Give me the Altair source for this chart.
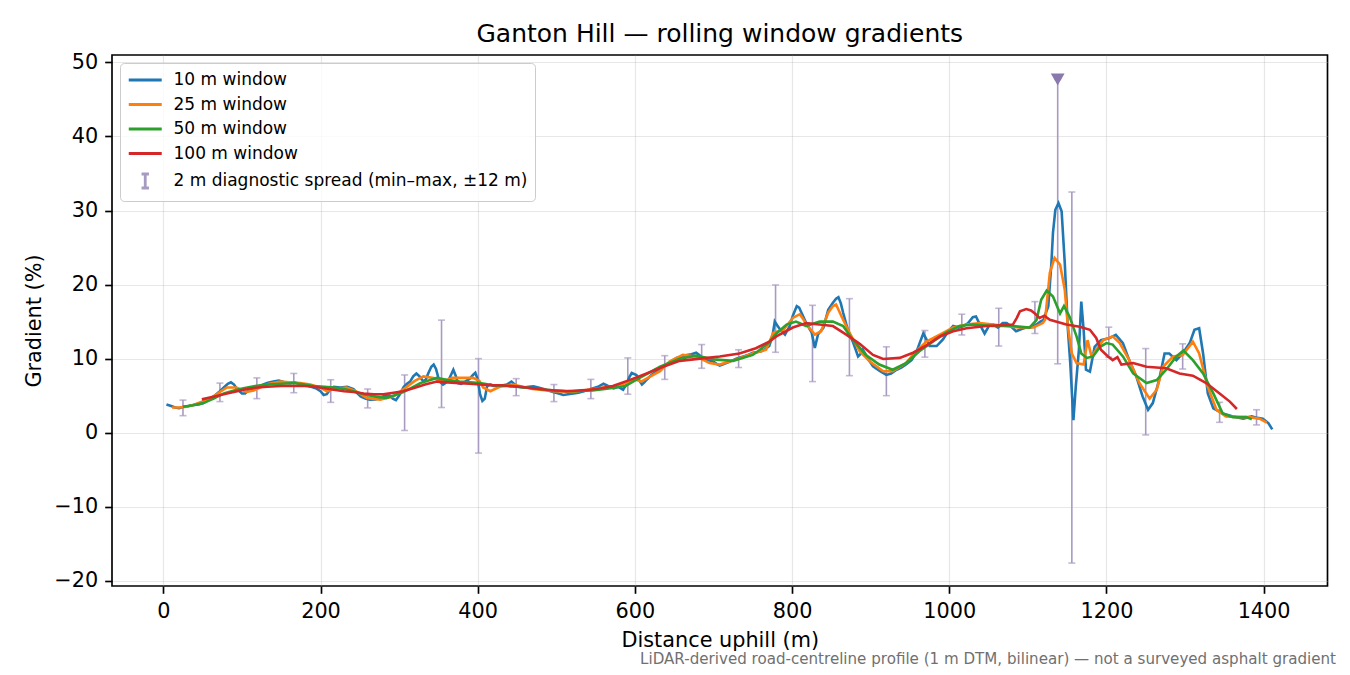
import altair as alt
import pandas as pd

# ---------------- data ----------------
w10_x = [4, 10, 15, 20, 26, 32, 38, 45, 51, 57, 64, 72, 78, 82, 86, 90, 93, 97, 100, 104, 107, 113, 119, 125,
         132, 140, 147, 154, 161, 167, 174, 180, 187, 194, 200, 204, 208, 212, 217, 225, 234, 242, 246, 251,
         257, 263, 270, 276, 282, 288, 292, 296, 300, 306, 310, 314, 318, 322, 326, 331, 334, 337, 341, 344,
         347, 350, 353, 356, 359, 363, 366, 369, 372, 375, 379, 384, 390, 394, 397, 400, 403, 406, 409, 412,
         416, 420, 428, 437, 443, 450, 458, 465, 471, 477, 484, 490, 496, 503, 509, 515, 522, 528, 535, 541,
         547, 553, 560, 566, 573, 579, 585, 589, 593, 596, 602, 606, 609, 612, 615, 621, 628, 634, 640, 647,
         653, 660, 666, 672, 678, 683, 687, 693, 700, 704, 708, 714, 721, 729, 738, 744, 750, 756, 761, 766,
         771, 775, 778, 781, 785, 791, 797, 801, 806, 809, 812, 818, 825, 829, 833, 840, 846, 852, 856, 859,
         862, 865, 871, 878, 884, 887, 890, 894, 897, 903, 912, 920, 926, 933, 939, 945, 952, 958, 962, 967,
         971, 975, 984, 992, 998, 1005, 1012, 1018, 1024, 1030, 1034, 1039, 1045, 1051, 1056, 1062, 1068,
         1073, 1079, 1085, 1092, 1098, 1104, 1111, 1116, 1120, 1123, 1126, 1130, 1132, 1135, 1139, 1143,
         1147, 1151, 1154, 1158, 1161, 1165, 1168, 1171, 1174, 1179, 1185, 1193, 1204, 1212, 1221, 1229,
         1238, 1246, 1253, 1259, 1267, 1274, 1280, 1289, 1297, 1306, 1312, 1318, 1323, 1329, 1336, 1348,
         1361, 1374, 1385, 1392, 1399, 1406, 1411]
w10_y = [3.8, 3.6, 3.4, 3.3, 3.5, 3.6, 3.75, 3.8, 4.0, 4.4, 4.9, 5.6, 6.2, 6.6, 6.8, 6.5, 6.0, 5.6, 5.3, 5.3, 5.6,
         5.9, 6.2, 6.4, 6.7, 6.9, 7.05, 6.8, 6.7, 6.8, 6.55, 6.5, 6.25, 6.0, 5.6, 5.1, 5.2, 5.8, 6.2, 6.1, 6.2,
         5.9, 5.4, 4.9, 4.6, 4.45, 4.5, 4.7, 5.0, 5.0, 4.6, 4.4, 5.0, 6.2, 6.6, 6.9, 7.6, 8.0, 7.6, 6.9, 7.2,
         8.0, 8.9, 9.2, 8.6, 7.4, 6.8, 6.5, 6.7, 7.1, 7.8, 8.5, 7.7, 6.7, 6.6, 6.9, 7.3, 7.8, 8.1, 7.2, 5.2,
         4.3, 4.6, 6.3, 6.5, 6.3, 6.3, 6.5, 6.9, 6.25, 6.1, 6.2, 6.25, 6.1, 5.9, 5.7, 5.5, 5.3, 5.1, 5.2, 5.3,
         5.4, 5.6, 5.8, 6.0, 6.2, 6.6, 6.3, 6.0, 6.2, 5.8, 6.5, 7.5, 8.06, 7.8, 7.0, 6.5, 6.8, 7.15, 7.8, 8.3,
         8.8, 9.2, 9.7, 10.1, 10.3, 10.5, 10.6, 10.8, 10.4, 9.9, 9.8, 9.6, 9.3, 9.05, 9.3, 9.6, 10.0, 10.3,
         10.5, 10.8, 10.9, 11.0, 11.3, 11.7, 13.0, 15.0, 14.5, 13.9, 13.25, 14.4, 15.8, 17.1, 16.9, 16.2,
         14.8, 13.5, 11.45, 13.25, 14.2, 16.6, 17.55, 18.1, 18.3, 17.5, 16.2, 13.9, 12.1, 10.3, 10.6, 11.2,
         10.5, 9.9, 8.95, 8.3, 7.8, 8.0, 8.5, 8.8, 9.2, 9.8, 10.8, 12.0, 13.4, 12.6, 11.7, 11.7, 12.6, 13.6,
         14.4, 14.2, 14.4, 14.8, 15.6, 15.7, 14.6, 13.4, 14.5, 14.6, 14.2, 14.8, 14.8, 14.3, 13.7, 14.0,
         14.2, 14.2, 14.6, 15.0, 15.25, 16.2, 17.05, 22.9, 27.0, 30.1, 31.0, 29.9, 22.9, 13.9, 9.4, 1.7, 6.2,
         11.2, 17.7, 13.9, 8.5, 8.25, 11.6, 12.5, 12.8, 13.2, 12.1, 9.8, 7.6, 4.9, 3.1, 4.0, 7.1, 10.7, 10.7,
         9.8, 10.7, 12.1, 13.9, 14.1, 10.7, 5.3, 3.3, 2.6, 2.2, 1.9, 2.2, 2.0, 1.9, 1.3, 0.45]

w25_x = [11, 20, 30, 38, 50, 64, 72, 81, 93, 106, 115, 123, 135, 149, 160, 174, 187, 200, 208, 216, 233, 245,
         259, 276, 293, 310, 320, 331, 344, 352, 360, 368, 377, 394, 402, 407, 416, 428, 445, 470, 496, 521,
         547, 572, 589, 600, 608, 620, 632, 644, 661, 678, 695, 708, 729, 750, 767, 776, 789, 801, 810, 820,
         829, 837, 846, 852, 856, 863, 873, 886, 899, 916, 928, 945, 958, 971, 988, 1005, 1022, 1039, 1064,
         1090, 1107, 1119, 1122, 1128, 1134, 1141, 1147, 1151, 1156, 1162, 1171, 1176, 1181, 1187, 1196,
         1208, 1217, 1229, 1242, 1255, 1264, 1272, 1285, 1297, 1310, 1318, 1329, 1340, 1352, 1370, 1382,
         1395, 1404]
w25_y = [3.4, 3.4, 3.5, 3.75, 4.2, 4.9, 5.5, 6.1, 6.1, 5.5, 5.7, 6.1, 6.6, 6.9, 6.8, 6.7, 6.5, 6.1, 5.6, 5.9,
         6.1, 5.6, 4.7, 4.45, 4.9, 6.2, 7.0, 7.6, 7.4, 7.0, 7.1, 7.4, 7.4, 7.4, 7.0, 6.1, 5.6, 6.2, 6.5, 5.9,
         5.6, 5.5, 5.9, 6.25, 6.7, 7.2, 6.9, 7.6, 8.3, 9.6, 10.5, 10.3, 9.4, 9.2, 9.9, 10.7, 11.2, 13.5, 13.9,
         15.5, 16.0, 14.4, 13.25, 13.7, 16.2, 17.1, 17.3, 15.7, 13.5, 11.0, 9.6, 8.3, 8.3, 9.4, 11.0, 12.3,
         13.25, 14.2, 14.6, 14.8, 14.5, 14.2, 14.2, 14.8, 15.25, 21.6, 23.6, 22.7, 19.3, 14.3, 10.7, 9.4, 9.2,
         12.5, 10.3, 11.2, 12.5, 13.0, 12.1, 9.8, 6.7, 4.6, 5.8, 8.9, 10.3, 10.5, 12.3, 10.7, 6.2, 3.1, 2.2,
         2.1, 2.1, 1.9, 1.35]

w50_x = [25, 38, 51, 64, 77, 90, 102, 117, 132, 150, 166, 180, 191, 205, 217, 230, 242, 255, 268, 284, 301,
         315, 327, 348, 362, 377, 403, 420, 445, 470, 496, 521, 546, 562, 588, 606, 632, 657, 678, 700, 725,
         750, 759, 771, 780, 793, 805, 818, 835, 852, 865, 877, 894, 911, 928, 945, 962, 979, 996, 1013, 1030,
         1055, 1081, 1102, 1111, 1117, 1124, 1132, 1141, 1146, 1153, 1162, 1168, 1175, 1183, 1192, 1200, 1208,
         1221, 1234, 1251, 1264, 1276, 1289, 1298, 1310, 1323, 1336, 1348, 1361, 1378, 1385]
w50_y = [3.5, 3.7, 4.0, 4.6, 5.3, 5.7, 6.0, 6.3, 6.5, 6.6, 6.7, 6.5, 6.3, 6.2, 6.1, 5.9, 5.6, 5.2, 4.9, 4.7,
         5.3, 6.0, 6.7, 7.4, 7.1, 6.9, 6.7, 6.4, 6.25, 6.0, 5.7, 5.6, 5.7, 5.9, 6.3, 7.4, 8.9, 10.0, 10.4, 9.9,
         9.7, 10.5, 11.2, 12.2, 13.4, 14.6, 15.0, 14.4, 15.0, 15.0, 14.4, 12.6, 10.5, 9.2, 8.5, 9.4, 11.0, 12.3,
         13.5, 14.4, 14.6, 14.4, 14.4, 14.2, 15.2, 17.95, 19.2, 18.4, 16.1, 17.1, 15.7, 13.0, 10.7, 10.1, 10.3,
         11.6, 12.1, 11.9, 10.3, 8.0, 6.7, 7.1, 8.5, 10.3, 11.1, 9.8, 8.0, 5.3, 2.6, 2.1, 2.1, 1.8]

w100_x = [49, 65, 81, 94, 106, 120, 132, 150, 166, 180, 191, 205, 217, 230, 242, 255, 268, 280, 293, 305, 318,
          333, 348, 362, 377, 390, 403, 416, 430, 454, 470, 487, 500, 513, 528, 542, 557, 572, 593, 615, 636,
          657, 683, 708, 733, 754, 771, 780, 801, 818, 835, 852, 869, 886, 903, 916, 937, 954, 971, 988, 1005,
          1022, 1047, 1081, 1086, 1090, 1098, 1104, 1109, 1115, 1121, 1128, 1149, 1166, 1179, 1187, 1193,
          1202, 1208, 1214, 1219, 1234, 1251, 1276, 1293, 1310, 1327, 1344, 1357, 1366]
w100_y = [4.5, 4.9, 5.3, 5.6, 5.9, 6.1, 6.2, 6.3, 6.3, 6.3, 6.2, 6.0, 5.8, 5.6, 5.5, 5.3, 5.2, 5.2, 5.4, 5.6,
          6.0, 6.5, 6.9, 6.8, 6.7, 6.6, 6.5, 6.4, 6.4, 6.2, 6.0, 5.8, 5.7, 5.6, 5.7, 5.8, 6.0, 6.3, 7.1, 8.0,
          8.9, 9.7, 10.0, 10.3, 10.7, 11.4, 12.3, 13.0, 14.2, 14.8, 14.6, 14.4, 13.25, 12.0, 10.5, 9.96, 10.1,
          10.8, 11.8, 13.0, 13.7, 14.1, 14.4, 14.6, 15.5, 16.4, 16.7, 16.5, 16.1, 15.5, 15.8, 15.25, 14.6,
          14.3, 13.9, 12.8, 11.2, 10.3, 9.8, 10.2, 9.2, 9.4, 8.9, 8.7, 8.0, 7.7, 6.7, 5.3, 4.2, 3.2]

# 2 m diagnostic spread (min-max within +-12 m)
eb_x = [25, 72, 119, 166, 213, 260, 307, 354, 401, 449, 497, 544, 591, 638, 685, 732, 779, 826, 873, 920,
        969, 1016, 1063, 1109, 1138, 1156, 1203, 1250, 1297, 1344, 1391]
eb_lo = [2.3, 4.2, 4.6, 5.4, 4.1, 3.35, 0.3, 3.4, -2.75, 5.0, 4.2, 4.6, 5.2, 7.2, 8.7, 8.8, 10.86, 6.9, 7.7,
         5.0, 10.2, 13.2, 11.7, 13.4, 9.3, -17.6, 10.2, -0.3, 8.6, 1.4, 1.05]
eb_hi = [4.4, 6.7, 7.4, 8.0, 7.15, 5.9, 7.8, 15.2, 10.0, 7.3, 6.5, 7.2, 10.1, 10.4, 11.9, 11.2, 19.95, 17.2,
         18.1, 11.6, 13.8, 16.0, 16.8, 17.7, 47.7, 32.5, 14.25, 11.36, 12.0, 4.1, 3.1]

peak_x = [1138]
peak_y = [47.7]

SERIES = ["10 m window", "25 m window", "50 m window", "100 m window",
          "2 m diagnostic spread (min–max, ±12 m)"]
COLORS = ["#1f77b4", "#ff7f0e", "#2ca02c", "#d62728", "#a89bc2"]
TITLE = "Ganton Hill — rolling window gradients"
FOOTNOTE = "LiDAR-derived road-centreline profile (1 m DTM, bilinear) — not a surveyed asphalt gradient"
X_TICKS = [0, 200, 400, 600, 800, 1000, 1200, 1400]
Y_TICKS = [-20, -10, 0, 10, 20, 30, 40, 50]

# ---------------- tables ----------------
rows = []
for name, xs, ys in [(SERIES[0], w10_x, w10_y), (SERIES[1], w25_x, w25_y),
                     (SERIES[2], w50_x, w50_y), (SERIES[3], w100_x, w100_y)]:
    for xv, yv in zip(xs, ys):
        rows.append({"dist": xv, "grad": yv, "series": name})
lines_df = pd.DataFrame(rows)
eb_df = pd.DataFrame({"dist": eb_x, "lo": eb_lo, "hi": eb_hi})
peak_df = pd.DataFrame({"dist": peak_x, "grad": peak_y})
note_df = pd.DataFrame({"note": [FOOTNOTE]})
title_df = pd.DataFrame({"t": [TITLE]})

FONT = "DejaVu Sans"
EB_COLOR = COLORS[4]

xscale = alt.Scale(domain=[-65.3, 1481.3], nice=False, zero=False)
yscale = alt.Scale(domain=[-20.7, 51.0], nice=False, zero=False)
xaxis = alt.Axis(values=X_TICKS, title="Distance uphill (m)", titleY=54, titleBaseline="middle",
                 labelPadding=8, format="d")
yaxis = alt.Axis(values=Y_TICKS, title="Gradient (%)", titleX=-78, titleBaseline="middle",
                 labelPadding=7, labelExpr="replace(datum.label, '-', '\u2212')")

X = alt.X("dist:Q", scale=xscale, axis=xaxis)
color_scale = alt.Scale(domain=SERIES, range=COLORS)
shape_scale = alt.Scale(domain=SERIES,
                        range=["M-1,0H3"] * 4 + ["M1,-0.85V0.85M0.55,-0.85H1.45M0.55,0.85H1.45"])

legend = alt.Legend(title=None, orient="top-left", offset=8, padding=7,
                    fillColor="rgba(255,255,255,0.8)", strokeColor="#cccccc", cornerRadius=4,
                    labelFont=FONT, labelFontSize=17.0, labelColor="black", labelLimit=600,
                    symbolSize=272, symbolStrokeWidth=2.8, symbolOpacity=1,
                    labelOffset=26.5, rowPadding=6.5)

# invisible points that carry the legend (colour + per-entry symbol)
legend_layer = alt.Chart(lines_df).mark_point(filled=False, opacity=0).encode(
    x=X, y=alt.Y("grad:Q", scale=yscale, axis=yaxis),
    color=alt.Color("series:N", scale=color_scale, legend=legend),
    shape=alt.Shape("series:N", scale=shape_scale, legend=legend))

rules = alt.Chart(eb_df).mark_rule(color=EB_COLOR, strokeWidth=1.6).encode(
    x=X, y=alt.Y("lo:Q", scale=yscale, axis=yaxis), y2="hi:Q")
caps_lo = alt.Chart(eb_df).mark_tick(orient="horizontal", size=7, thickness=1.6, color=EB_COLOR).encode(
    x=X, y=alt.Y("lo:Q", scale=yscale, axis=yaxis))
caps_hi = alt.Chart(eb_df).mark_tick(orient="horizontal", size=7, thickness=1.6, color=EB_COLOR).encode(
    x=X, y=alt.Y("hi:Q", scale=yscale, axis=yaxis))
peak = alt.Chart(peak_df).mark_point(shape="triangle-down", filled=True, size=190, color="#8a79ad",
                                     opacity=1).encode(
    x=X, y=alt.Y("grad:Q", scale=yscale, axis=yaxis))

line_layers = []
for name in SERIES[:4]:
    line_layers.append(
        alt.Chart(lines_df).transform_filter(alt.datum.series == name)
        .mark_line(strokeWidth=2.6, clip=True)
        .encode(x=X, y=alt.Y("grad:Q", scale=yscale, axis=yaxis),
                color=alt.Color("series:N", scale=color_scale, legend=legend))
    )

note = alt.Chart(note_df).mark_text(align="right", baseline="alphabetic", font=FONT, fontSize=15.1,
                                    color="#707070").encode(
    text="note:N", x=alt.value(1224), y=alt.value(609))

title = alt.Chart(title_df).mark_text(align="center", baseline="alphabetic", font=FONT, fontSize=25,
                                      color="black").encode(
    text="t:N", x=alt.value(607.75), y=alt.value(-13))

chart = alt.layer(legend_layer, rules, caps_lo, caps_hi, peak, *line_layers, note, title).properties(
    width=1215.5, height=531,
    autosize=alt.AutoSizeParams(type="none"),
    padding={"left": 104, "top": 47, "right": 10, "bottom": 88},
).configure_view(stroke="black", strokeWidth=1.67).configure_axis(
    domain=False, grid=True, gridColor="#b0b0b0", gridOpacity=0.3, gridWidth=1.2,
    tickColor="black", tickSize=7.3, tickWidth=1.67,
    labelFont=FONT, labelFontSize=20.8, labelColor="black",
    titleFont=FONT, titleFontSize=20.8, titleFontWeight="normal", titleColor="black",
)

chart.save("out.html", embed_options={"renderer": "svg", "actions": False})
